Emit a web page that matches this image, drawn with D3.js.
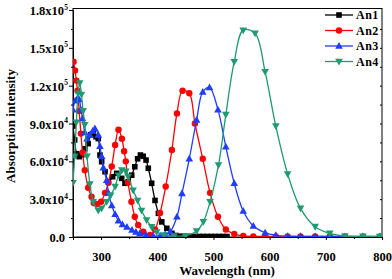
<!DOCTYPE html>
<html><head><meta charset="utf-8">
<script src="https://cdn.jsdelivr.net/npm/d3@7"></script>
<style>body{margin:0;background:#fff}svg{display:block}</style>
</head><body>
<svg id="c" width="392" height="279"></svg>
<script>
// wavelength (nm), absorption (x10^3)
const an1 = [[250,88],[253,77],[256.5,66],[261,63.7],[265.5,65],[271,70],[277,74],[281.5,81],[286,82],[291,79.5],[295,78],[298,65],[301,59.7],[307,51.8],[313,43.8],[320.6,47.8],[327.8,50.5],[336.7,46.5],[342.5,42.6],[348.4,43.8],[354.5,49],[360,55.7],[365,62],[370,65],[375,64],[380,61],[384,54.5],[390,42.6],[396,29],[402,18.8],[408,12],[417,6.9],[426,2.9],[433,1.2],[440,0.6],[447,0.5],[454,0.4],[461,0.4],[468,0.4],[475,0.4],[482,0.4],[489,0.4],[496,0.4],[503,0.4],[510,0.4],[517,0.4],[524,0.4]];
const an2 = [[251,139],[253.6,132],[256,124],[258,116],[261,100],[264,82],[267,67],[271,53],[277,39],[283,32],[287,27],[293,26],[300,28],[307,35],[313,43],[319,56],[325,73],[331,85],[337,78],[341,68],[344,60],[348,43],[354,28],[360,16],[366,9.5],[375,4.2],[387,1.6],[396,6],[405,19],[415,40],[426,69],[435,98],[445,116],[457,114],[467,90],[481,62],[494,35],[508,16],[522,6],[537,2.4],[553,0.8],[571,0.5],[592,0.4],[611,0.4],[632,0.4],[655,0.4],[681,0.4],[707,0.4],[734,0.3],[766,0.3],[796,0.3]];
const an3 = [[250,101],[254,108],[258,110],[261,109],[264,101],[267,94],[271,83],[275,78],[280,81],[285,84],[289,86],[295,81],[298,72],[301,64],[304,55],[310,45],[313,35],[319,25],[325,18],[331,13],[338,10],[346,8],[355,5.5],[362,4],[369,2.9],[380,1.5],[393,0.8],[405,1],[414,2],[423,4.2],[435,16],[444,34.6],[457,62],[470,92.8],[481,115],[493,118.5],[508,101],[522,71.6],[537,42.6],[553,20.6],[571,8.7],[592,3.4],[611,1.3],[632,0.6],[655,0.5],[681,0.4],[707,0.4],[734,0.4],[766,0.4],[796,0.4]];
const an4 = [[250,43],[253,64],[256,91],[259,114],[262,122],[265,113],[268,100],[271,89],[275,64],[280,42],[286,28],[295,21],[301,22.7],[310,28],[317,33],[325,40],[331,49],[337,53],[344,52],[348,48],[357,37],[365,29],[372,21],[381,13.5],[390,8],[399,4],[412,1.5],[430,0.8],[450,1],[470,4.7],[482,12],[494,28],[509,57],[522,97],[537,139],[553,164],[574,161.5],[592,131],[611,88],[632,50],[655,22.7],[681,8.2],[707,2.9],[734,0.8],[766,0.5],[796,0.3]];
const seriesNames = ["An1","An2","An3","An4"];
const xTicks = [300,400,500,600,700,800];
const yTicks = [0,30000,60000,90000,120000,150000,180000];
const yTickLabels = [["0.0",""],["3.0x10","4"],["6.0x10","4"],["9.0x10","4"],["1.2x10","5"],["1.5x10","5"],["1.8x10","5"]];

const colors = ["#000000","#ff0000","#1f3cff","#1f9a72"];
const shapes = ["square","circle","triUp","triDown"];
const data = [an1,an2,an3,an4];

const svg = d3.select("#c");
const L=73,R=382,T=10,B=237;
const x = d3.scaleLinear().domain([250,800]).range([L,R]);
const y = d3.scaleLinear().domain([0,180000]).range([B,T]);
const FONT = "'Liberation Serif','Times New Roman',serif";

svg.append("defs").append("clipPath").attr("id","clip")
  .append("rect").attr("x",L).attr("y",T-6).attr("width",R-L).attr("height",B-T+6);

// frame
svg.append("rect").attr("x",L).attr("y",T-1.5).attr("width",R-L).attr("height",B-T+1.5)
  .attr("fill","none").attr("stroke","#000").attr("stroke-width",1);

// x axis
const xAxis = svg.append("g").attr("transform",`translate(0,${B})`)
  .call(d3.axisBottom(x).tickValues(xTicks).tickSize(3).tickFormat(d3.format("d")));
svg.append("g").attr("transform",`translate(0,${B})`)
  .call(d3.axisBottom(x).tickValues(d3.range(250,801,50).filter(v=>v%100!==0)).tickSize(2).tickFormat(""))
  .call(g=>g.select(".domain").remove());
xAxis.selectAll("text").attr("font-family",FONT).attr("font-weight","bold").attr("font-size","12.5px").attr("dy","0").attr("y",23.5).attr("fill","#000");
svg.selectAll(".domain").attr("stroke","#000");

// y axis
const yAxis = svg.append("g").attr("transform",`translate(${L},0)`)
  .call(d3.axisLeft(y).tickValues(yTicks).tickSize(4).tickFormat(""));
svg.append("g").attr("transform",`translate(${L},0)`)
  .call(d3.axisLeft(y).tickValues(d3.range(15000,180000,30000)).tickSize(2).tickFormat(""))
  .call(g=>g.select(".domain").remove());
// right minor ticks
svg.append("g").attr("transform",`translate(${R},0)`)
  .call(d3.axisRight(y).tickValues(d3.range(15000,180000,15000)).tickSize(-2).tickFormat(""))
  .call(g=>g.select(".domain").remove());

const yl = svg.append("g");
yTicks.forEach((v,i)=>{
  const lab = yTickLabels[i];
  const t = yl.append("text").attr("x", lab[1]?64:65).attr("y", y(v)+5)
    .attr("text-anchor","end").attr("font-family",FONT).attr("font-weight","bold").attr("font-size","12.5px");
  t.text(lab[0]);
  if(lab[1]){
    yl.append("text").attr("x",64.2).attr("y",y(v)-0.5).attr("font-family",FONT).attr("font-weight","bold").attr("font-size","7.5px").text(lab[1]);
  }
});

// titles
svg.append("text").attr("x",227).attr("y",275).attr("text-anchor","middle")
  .attr("font-family",FONT).attr("font-weight","bold").attr("font-size","13px").text("Wavelength (nm)");
svg.append("text").attr("transform","translate(15,126) rotate(-90)").attr("text-anchor","middle")
  .attr("font-family",FONT).attr("font-weight","bold").attr("font-size","13px").text("Absorption intensity");

// marker drawing
function marker(g, shape, color, cx, cy){
  if(shape==="square") g.append("rect").attr("x",cx-2.8).attr("y",cy-2.8).attr("width",5.6).attr("height",5.6).attr("fill",color);
  else if(shape==="circle") g.append("circle").attr("cx",cx).attr("cy",cy).attr("r",3.2).attr("fill",color);
  else if(shape==="triUp") g.append("path").attr("d",`M${cx},${cy-4}L${cx+3.8},${cy+2.8}L${cx-3.8},${cy+2.8}Z`).attr("fill",color);
  else g.append("path").attr("d",`M${cx},${cy+4}L${cx+3.8},${cy-2.8}L${cx-3.8},${cy-2.8}Z`).attr("fill",color);
}

const line = d3.line().x(d=>x(d[0])).y(d=>y(d[1]*1000)).curve(d3.curveCatmullRom.alpha(0.5));
const plot = svg.append("g").attr("clip-path","url(#clip)");
data.forEach((s,i)=>{
  const g = plot.append("g");
  g.append("path").attr("d",line(s)).attr("fill","none").attr("stroke",colors[i]).attr("stroke-width",1.3);
  s.forEach(d=>marker(g,shapes[i],colors[i],x(d[0]),y(d[1]*1000)));
});

// legend
const lg = svg.append("g");
const rows=[15,30.5,46,61.5];
seriesNames.forEach((n,i)=>{
  lg.append("line").attr("x1",325).attr("x2",353).attr("y1",rows[i]).attr("y2",rows[i]).attr("stroke",colors[i]).attr("stroke-width",1.3);
  marker(lg,shapes[i],colors[i],339,rows[i]);
  lg.append("text").attr("x",356).attr("y",rows[i]+4.3).attr("font-family",FONT).attr("font-weight","bold").attr("font-size","12px").attr("letter-spacing","0.5px").text(n);
});
</script>
</body></html>
